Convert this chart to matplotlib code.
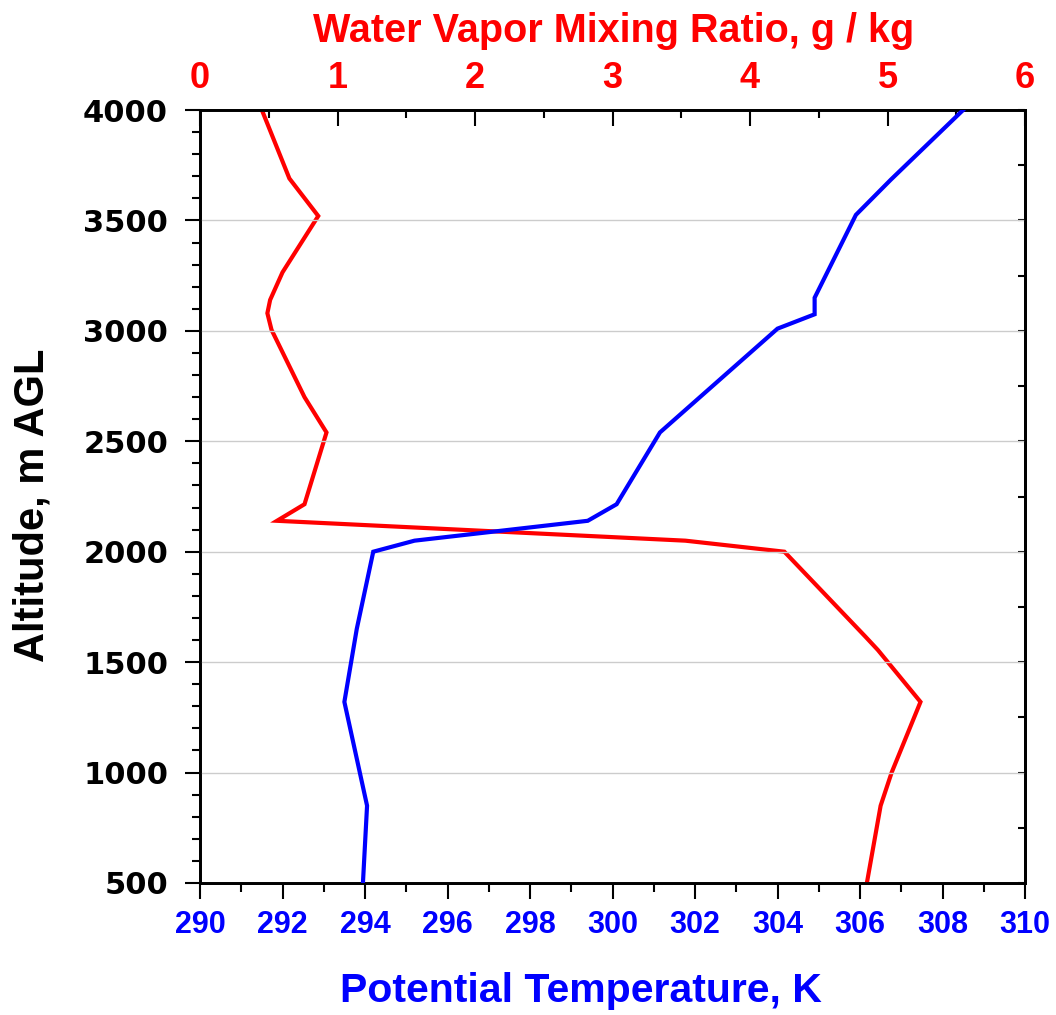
import matplotlib
matplotlib.use("Agg")
import matplotlib.pyplot as plt
from matplotlib.ticker import MultipleLocator

# potential temperature profile
alt_theta = [500, 850, 1320, 1650, 2000, 2050, 2140, 2215, 2540, 3010, 3075, 3150, 3525, 3685, 4000]
theta = [293.95, 294.05, 293.5, 293.8, 294.2, 295.2, 299.4, 300.1, 301.15, 304.0, 304.9, 304.9,
         305.9, 306.75, 308.5]

# water vapor mixing ratio profile
alt_q = [500, 850, 1000, 1320, 1555, 1615, 2000, 2050, 2140, 2215, 2540, 2700, 3005, 3080,
         3140, 3265, 3520, 3690, 4000]
q = [4.85, 4.95, 5.03, 5.24, 4.93, 4.84, 4.25, 3.53, 0.56, 0.76, 0.92, 0.76, 0.52, 0.49,
     0.51, 0.60, 0.86, 0.65, 0.45]

plt.rcParams["font.family"] = ["Liberation Sans", "DejaVu Sans"]
plt.rcParams["font.weight"] = "bold"

W, H = 1056, 1015
fig = plt.figure(figsize=(W / 100, H / 100), dpi=100)
ax = fig.add_axes([200 / W, 1 - 883 / H, 825 / W, 773 / H])

ax.plot(theta, alt_theta, color="#0000ff", lw=3, solid_joinstyle="miter", zorder=3)
ax.set_xlim(290, 310)
ax.set_ylim(500, 4000)

ax.xaxis.set_major_locator(MultipleLocator(2))
ax.xaxis.set_minor_locator(MultipleLocator(1))
ax.yaxis.set_major_locator(MultipleLocator(500))
ax.yaxis.set_minor_locator(MultipleLocator(100))
ax.tick_params(axis="x", which="major", direction="out", length=11.5, width=1.5,
               labelsize=22, labelcolor="#0000ff", pad=8, top=False)
ax.tick_params(axis="x", which="minor", direction="out", length=6.5, width=1.5, top=False)
ax.tick_params(axis="y", which="major", direction="out", length=11, width=1.5,
               labelsize=22, pad=12, right=False)
ax.tick_params(axis="y", which="minor", direction="out", length=5.5, width=1.5, right=False)
for lab in ax.get_yticklabels():
    lab.set_family("DejaVu Sans")
    lab.set_fontweight("bold")

ax.yaxis.grid(True, which="major", color="#cccccc", lw=1)
ax.set_axisbelow(True)
for s in ax.spines.values():
    s.set_linewidth(2)

# right side ticks only
axr = ax.secondary_yaxis("right")
axr.yaxis.set_major_locator(MultipleLocator(250))
axr.tick_params(axis="y", direction="in", length=5, width=1.5, labelright=False)
axr.spines["right"].set_linewidth(2)

# mixing ratio on top axis
ax2 = ax.twiny()
ax2.plot(q, alt_q, color="#ff0000", lw=3, solid_joinstyle="miter", zorder=3)
ax2.set_xlim(0, 6)
ax2.xaxis.set_major_locator(MultipleLocator(1))
ax2.xaxis.set_minor_locator(MultipleLocator(0.5))
ax2.tick_params(axis="x", which="major", direction="in", length=11.5, width=1.5,
                labelsize=26, labelcolor="#ff0000", pad=10)
ax2.tick_params(axis="x", which="minor", direction="in", length=6, width=1.5)
for s in ax2.spines.values():
    s.set_linewidth(2)

# blue drawn above red
ax.set_zorder(ax2.get_zorder() + 1)
ax.patch.set_visible(False)

fig.text(614 / W, 1 - 42 / H, "Water Vapor Mixing Ratio, g / kg", color="#ff0000",
         fontsize=28.5, ha="center", va="baseline")
fig.text(581 / W, 1 - 1002 / H, "Potential Temperature, K", color="#0000ff",
         fontsize=29.5, ha="center", va="baseline")
fig.text(33 / W, 1 - 505 / H, "Altitude, m AGL", color="black", fontsize=30,
         rotation=90, ha="center", va="center")

fig.savefig("out.png", dpi=100)
